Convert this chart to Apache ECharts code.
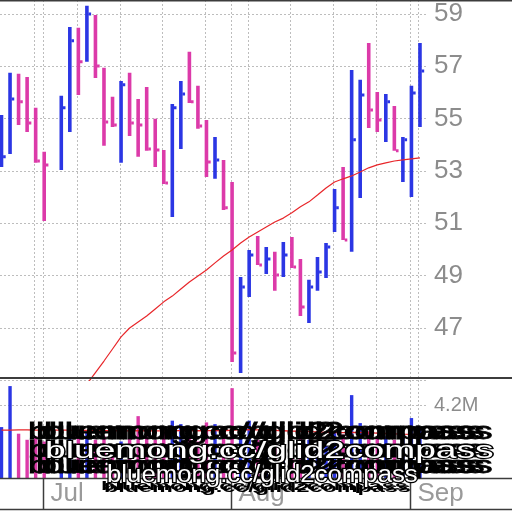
<!DOCTYPE html>
<html><head><meta charset="utf-8">
<script src="https://cdn.jsdelivr.net/npm/echarts@6/dist/echarts.min.js"></script>
<style>html,body{margin:0;padding:0;background:#fff}#c{width:512px;height:512px}</style>
</head><body><div id="c"></div>
<script>
// trading-day slots (slot 6 is a market holiday, no bar)
const barIndex = [0,1,2,3,4,5,7,8,9,10,11,12,13,14,15,16,17,18,19,20,21,22,23,24,25,26,27,28,29,30,31,32,33,34,35,36,37,38,39,40,41,42,43,44,45,46,47,48,49];
const highs  = [55.14,56.75,56.71,56.59,55.41,53.73,55.87,58.50,58.47,59.31,58.96,56.94,55.83,56.44,56.75,55.75,56.21,54.99,53.80,55.56,56.44,57.55,56.25,54.95,54.30,53.42,52.58,48.95,49.98,50.52,50.10,49.91,50.29,50.48,49.64,48.84,49.71,50.25,52.31,53.15,56.86,56.48,57.89,56.02,55.94,55.48,54.30,56.25,57.89];
const lows   = [53.15,53.65,54.76,54.49,53.31,51.09,53.04,54.49,55.90,57.17,56.55,53.96,54.68,53.31,54.34,53.54,53.77,53.15,52.50,51.24,53.84,55.60,54.61,52.77,52.70,51.51,45.70,45.28,48.19,49.41,49.06,48.42,48.95,49.29,47.46,47.19,48.42,48.91,50.67,50.36,49.91,51.97,54.64,54.49,54.11,53.77,52.58,52.01,54.68];
const closes = [53.54,55.75,55.64,54.83,53.38,53.23,55.41,57.97,57.17,59.00,57.01,54.87,54.76,56.29,54.83,54.76,53.84,53.80,52.54,55.41,55.94,55.64,54.72,53.34,53.42,51.59,46.05,48.57,49.79,49.41,49.64,49.03,49.79,49.33,47.80,48.57,49.14,50.10,51.59,50.36,54.19,55.90,55.33,54.95,55.64,53.77,54.19,55.98,56.82];
const movingAvg = [null,null,null,null,null,null,null,null,null,44.86,45.30,45.74,46.20,46.66,47.00,47.23,47.46,47.73,48.00,48.22,48.49,48.76,48.99,49.22,49.49,49.75,49.98,50.25,50.48,50.67,50.86,51.05,51.20,51.40,51.63,51.82,52.08,52.35,52.58,52.70,52.81,52.96,53.12,53.23,53.31,53.38,53.42,53.46,53.50];
const volumes = [2.93,5.29,2.55,2.2,2.4,2.1,1.9,2.5,2.3,2.6,2.2,2.4,1.8,2.1,2.3,3.56,2.4,2.2,2.6,3.3,3.1,2.3,2.1,3.2,3.1,2.5,5.17,3.0,3.3,2.2,1.9,2.0,1.8,2.1,2.4,2.2,1.9,2.1,2.6,2.5,4.77,3.16,2.7,2.3,2.4,2.2,2.5,3.45,2.9];
const volumeAvg = [2.76,2.76,2.77,2.77,2.76,2.76,2.75,2.75,2.74,2.74,2.73,2.73,2.72,2.72,2.71,2.72,2.72,2.71,2.71,2.72,2.73,2.73,2.72,2.73,2.73,2.72,2.76,2.77,2.78,2.77,2.76,2.74,2.72,2.70,2.69,2.67,2.65,2.63,2.62,2.61,2.63,2.62,2.60,2.58,2.56,2.54,2.52,2.51,2.50];
const weekLines = [4,9,14,19,24,29,34,39,44,49];
const monthStarts = [5,27,48];
const monthLabels = ['Jul','Aug','Sep'];
const volTick = 4.2;
const volTickLabel = '4.2M';
const watermark = 'bluemong.cc/glid2compass';

const BLUE = '#2b36e4', MAG = '#dc3aa9';
const FONT = '"Liberation Sans", Arial, sans-serif';

const ohlc = barIndex.map((ix, i) => [ix, highs[i], lows[i], closes[i], (i === 0 || closes[i] >= closes[i-1]) ? 1 : 0]);
const vols = barIndex.map((ix, i) => [ix, volumes[i], ohlc[i][4]]);
const maData = barIndex.map((ix, i) => [ix, movingAvg[i]]);
const vmaData = barIndex.map((ix, i) => [ix, volumeAvg[i]]);
const gridLineData = weekLines.concat(monthStarts).map(v => [v]);

const chart = echarts.init(document.getElementById('c'));

function gridLineRender(params, api) {
  const cs = params.coordSys;
  const px = Math.floor(api.coord([api.value(0), 0])[0]) - 0.5;
  return { type: 'line', shape: { x1: px, y1: cs.y, x2: px, y2: cs.y + cs.height },
    style: { stroke: '#bdbdbd', lineWidth: 1, lineDash: [2, 2] }, silent: true };
}

const XMIN = -0.1756, XMAX = 49.94;
chart.setOption({
  animation: false,
  backgroundColor: '#fff',
  grid: [
    { left: 0, top: 0, width: 428, height: 380.4 },
    { left: 0, top: 380, width: 428, height: 98 }
  ],
  xAxis: [
    { type: 'value', gridIndex: 0, min: XMIN, max: XMAX, show: false, splitLine: { show: false } },
    { type: 'value', gridIndex: 1, min: XMIN, max: XMAX, show: false, splitLine: { show: false } }
  ],
  yAxis: [
    { type: 'value', gridIndex: 0, position: 'right', min: 45, max: 59.53, interval: 2,
      axisLine: { show: false }, axisTick: { show: false },
      axisLabel: { margin: 6, fontSize: 26, color: '#8c8c8c', fontFamily: FONT, showMinLabel: false, showMaxLabel: false,
        formatter: v => (Number.isInteger(v) && v > 45) ? String(v) : '' },
      splitLine: { show: true, lineStyle: { color: '#bdbdbd', type: [2, 2], width: 1 } } },
    { type: 'value', gridIndex: 1, position: 'right', min: 0, max: 5.64, interval: volTick,
      axisLine: { show: false }, axisTick: { show: false },
      axisLabel: { margin: 6, fontSize: 20, color: '#8c8c8c', fontFamily: FONT,
        formatter: v => Math.abs(v - volTick) < 1e-6 ? volTickLabel : '' },
      splitLine: { show: true, lineStyle: { color: '#bdbdbd', type: [2, 2], width: 1 } } }
  ],
  series: [
    { type: 'custom', xAxisIndex: 0, yAxisIndex: 0, data: gridLineData, renderItem: gridLineRender, z: 1, silent: true },
    { type: 'custom', xAxisIndex: 1, yAxisIndex: 1, data: gridLineData, renderItem: gridLineRender, z: 1, silent: true },
    { type: 'custom', xAxisIndex: 0, yAxisIndex: 0, data: ohlc, z: 3, clip: true,
      renderItem: (params, api) => {
        const x = api.coord([api.value(0), api.value(1)])[0];
        const yh = api.coord([api.value(0), api.value(1)])[1];
        const yl = api.coord([api.value(0), api.value(2)])[1];
        const yc = api.coord([api.value(0), api.value(3)])[1];
        const col = api.value(4) ? BLUE : MAG;
        return { type: 'group', children: [
          { type: 'rect', shape: { x: x - 1.8, y: yh, width: 3.6, height: yl - yh }, style: { fill: col } },
          { type: 'rect', shape: { x: x + 1.6, y: yc - 1.5, width: 2.6, height: 3 }, style: { fill: col } }
        ]};
      } },
    { type: 'line', xAxisIndex: 0, yAxisIndex: 0, data: maData, showSymbol: false, z: 4,
      lineStyle: { color: '#e8262a', width: 1.2 }, clip: true },
    { type: 'custom', xAxisIndex: 1, yAxisIndex: 1, data: vols, z: 3,
      renderItem: (params, api) => {
        const p = api.coord([api.value(0), api.value(1)]);
        const b = api.coord([api.value(0), 0]);
        return { type: 'rect', shape: { x: p[0] - 1.7, y: p[1], width: 3.4, height: b[1] - p[1] },
          style: { fill: api.value(2) ? BLUE : MAG } };
      } },
    { type: 'line', xAxisIndex: 1, yAxisIndex: 1, data: vmaData, showSymbol: false, z: 4,
      lineStyle: { color: '#e8262a', width: 1.3 } }
  ]
});

// decorations: borders, month separators, month labels, watermark
const g = [];
const border = '#3c3c3c';
[[0.75, 1.5], [378, 2], [478.5, 1.5], [509.5, 1.5]].forEach(([y, w]) => {
  g.push({ type: 'line', z: 50, shape: { x1: 0, y1: y, x2: 512, y2: y }, style: { stroke: border, lineWidth: w } });
});
monthStarts.forEach((ix, k) => {
  const px = Math.floor(chart.convertToPixel({ xAxisIndex: 1 }, ix)) - 0.5;
  g.push({ type: 'line', z: 50, shape: { x1: px, y1: 478, x2: px, y2: 510 }, style: { stroke: border, lineWidth: 1.5 } });
  g.push({ type: 'text', z: 50, x: px + 7, y: 494, style: { text: monthLabels[k], fill: '#9a9a9a', font: '26px ' + FONT,
    textAlign: 'left', align: 'left', textVerticalAlign: 'middle', verticalAlign: 'middle' } });
});
function wm(x, y, size, sx, fill, stroke, lw, weight) {
  const st = { text: watermark, fill: fill, font: (weight || '') + ' ' + size + 'px ' + FONT,
    textAlign: 'left', align: 'left', textVerticalAlign: 'middle', verticalAlign: 'middle' };
  if (stroke) { st.stroke = stroke; st.lineWidth = lw; }
  g.push({ type: 'text', z: 60, x: x, y: y, scaleX: sx, style: st, silent: true });
}
[432, 450, 466].forEach(y => { [28, 36, 44].forEach(x => wm(x, y, 24, 1.55, '#000', '#000', 0.8)); });
wm(45, 451, 24, 1.55, '#fff', '#000', 2.2);
wm(101, 487, 12, 1.95, '#000', null, 0, 'bold');
wm(104, 489, 12, 1.95, '#000', null, 0, 'bold');
wm(107, 476, 23, 1.12, '#fff', '#000', 2.4);
chart.setOption({ graphic: { elements: g } });
</script>
</body></html>
